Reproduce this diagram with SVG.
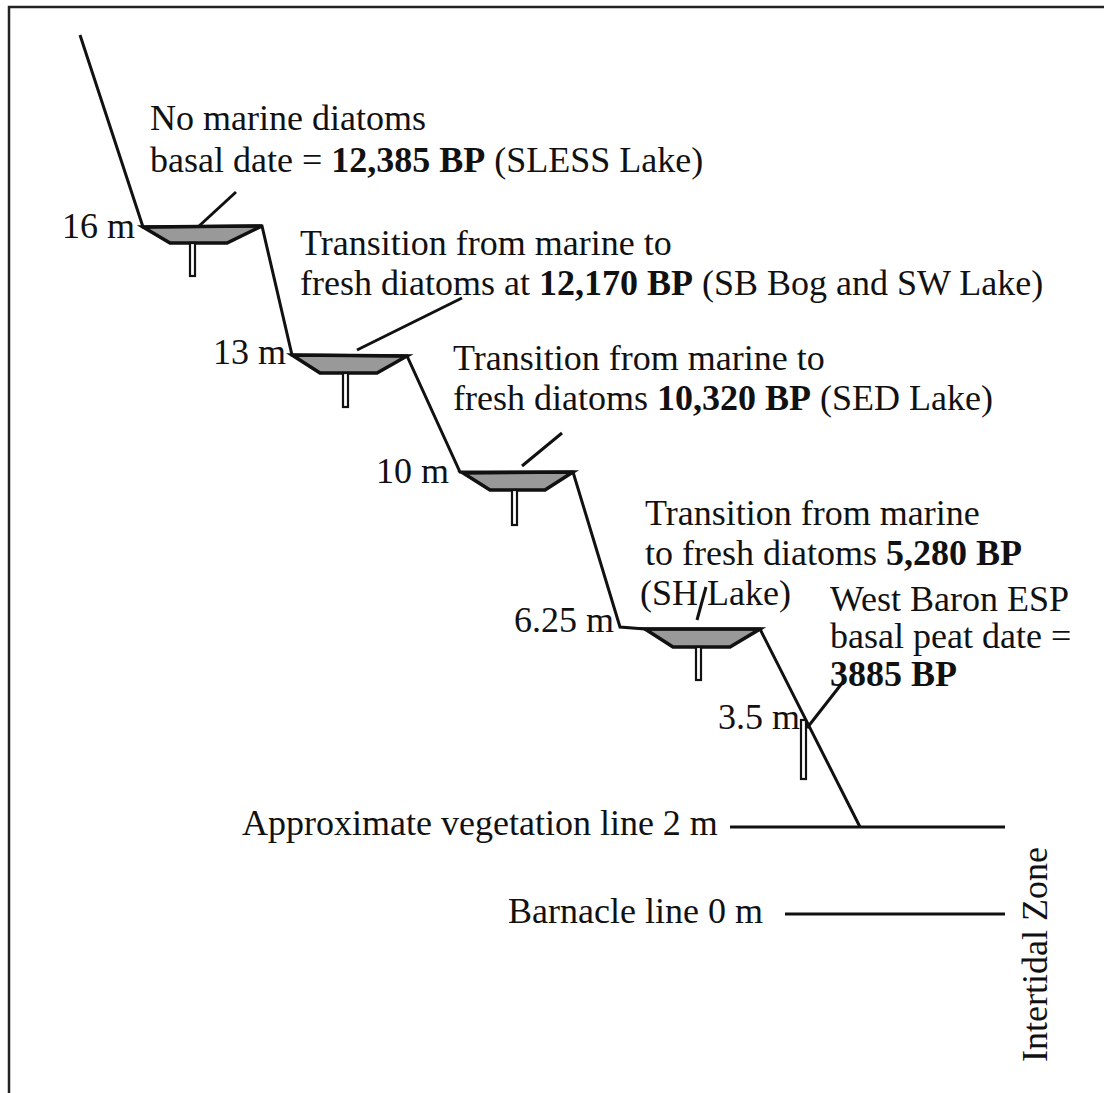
<svg xmlns="http://www.w3.org/2000/svg" width="1104" height="1093" viewBox="0 0 1104 1093">
  <style>
    text { font-family: "Liberation Serif", "Times New Roman", serif; font-size: 36px; fill: #111; }
    .b { font-weight: bold; }
    .r { text-anchor: end; }
    .ln { fill: none; stroke: #111; stroke-width: 3; stroke-linejoin: miter; }
    .basin { fill: #999; stroke: #111; stroke-width: 3.5; stroke-linejoin: miter; }
    .core { fill: #fff; stroke: #111; stroke-width: 2.2; }
    .frame { fill: none; stroke: #222; stroke-width: 2.5; }
  </style>
  <rect width="1104" height="1093" fill="#fff"/>

  <!-- frame (top and left edges) -->
  <path class="frame" d="M1104,7 H9 V1093"/>

  <!-- basins and cores -->
  <g id="basin-16m">
    <polygon class="basin" points="143,227 262,226 227,243 170,243"/>
    <rect class="core" x="190" y="243" width="5" height="33"/>
  </g>
  <g id="basin-13m">
    <polygon class="basin" points="292,355 407,356 377,373 320,373"/>
    <rect class="core" x="343" y="373" width="5" height="34"/>
  </g>
  <g id="basin-10m">
    <polygon class="basin" points="463,473 573,472 545,490 490,490"/>
    <rect class="core" x="512" y="490" width="5" height="35"/>
  </g>
  <g id="basin-6m">
    <polygon class="basin" points="645,629 760,629 730,647 673,647"/>
    <rect class="core" x="696" y="647" width="5" height="33"/>
  </g>
  <g id="core-3m">
    <rect class="core" x="801" y="720" width="5" height="59"/>
  </g>

  <!-- profile, leaders and reference lines -->
  <g id="connectors">
    <polyline class="ln" points="80,35 143,227 262,226 292,355 407,356 460,472 573,472 620,627 645,629 760,629 860,827"/>
    <line class="ln" x1="198" y1="227" x2="236" y2="192"/>
    <line class="ln" x1="357" y1="350" x2="462" y2="298"/>
    <line class="ln" x1="522" y1="466" x2="562" y2="433"/>
    <line class="ln" x1="697" y1="620" x2="706" y2="587"/>
    <line class="ln" x1="807" y1="728" x2="843" y2="682"/>
    <line class="ln" x1="730" y1="827" x2="1005" y2="827"/>
    <line class="ln" x1="785" y1="914" x2="1005" y2="914"/>
  </g>

  <!-- labels -->
  <g id="labels">
    <text x="150" y="130">No marine diatoms</text>
    <text x="150" y="172">basal date = <tspan class="b">12,385 BP</tspan> (SLESS Lake)</text>
    <text x="135" y="238" class="r">16 m</text>

    <text x="300" y="255">Transition from marine to</text>
    <text x="300" y="295">fresh diatoms at <tspan class="b">12,170 BP</tspan> (SB Bog and SW Lake)</text>
    <text x="286" y="364" class="r">13 m</text>

    <text x="453" y="370">Transition from marine to</text>
    <text x="453" y="410">fresh diatoms <tspan class="b">10,320 BP</tspan> (SED Lake)</text>
    <text x="449" y="483" class="r">10 m</text>

    <text x="645" y="525">Transition from marine</text>
    <text x="645" y="565">to fresh diatoms <tspan class="b">5,280 BP</tspan></text>
    <text x="640" y="605">(SH Lake)</text>
    <text x="614" y="632" class="r">6.25 m</text>

    <text x="830" y="611">West Baron ESP</text>
    <text x="830" y="648">basal peat date =</text>
    <text x="830" y="686" class="b">3885 BP</text>
    <text x="800" y="729" class="r">3.5 m</text>

    <text x="242" y="835">Approximate vegetation line 2 m</text>
    <text x="508" y="923">Barnacle line 0 m</text>
    <text transform="translate(1047,1062) rotate(-90)">Intertidal Zone</text>
  </g>
</svg>
